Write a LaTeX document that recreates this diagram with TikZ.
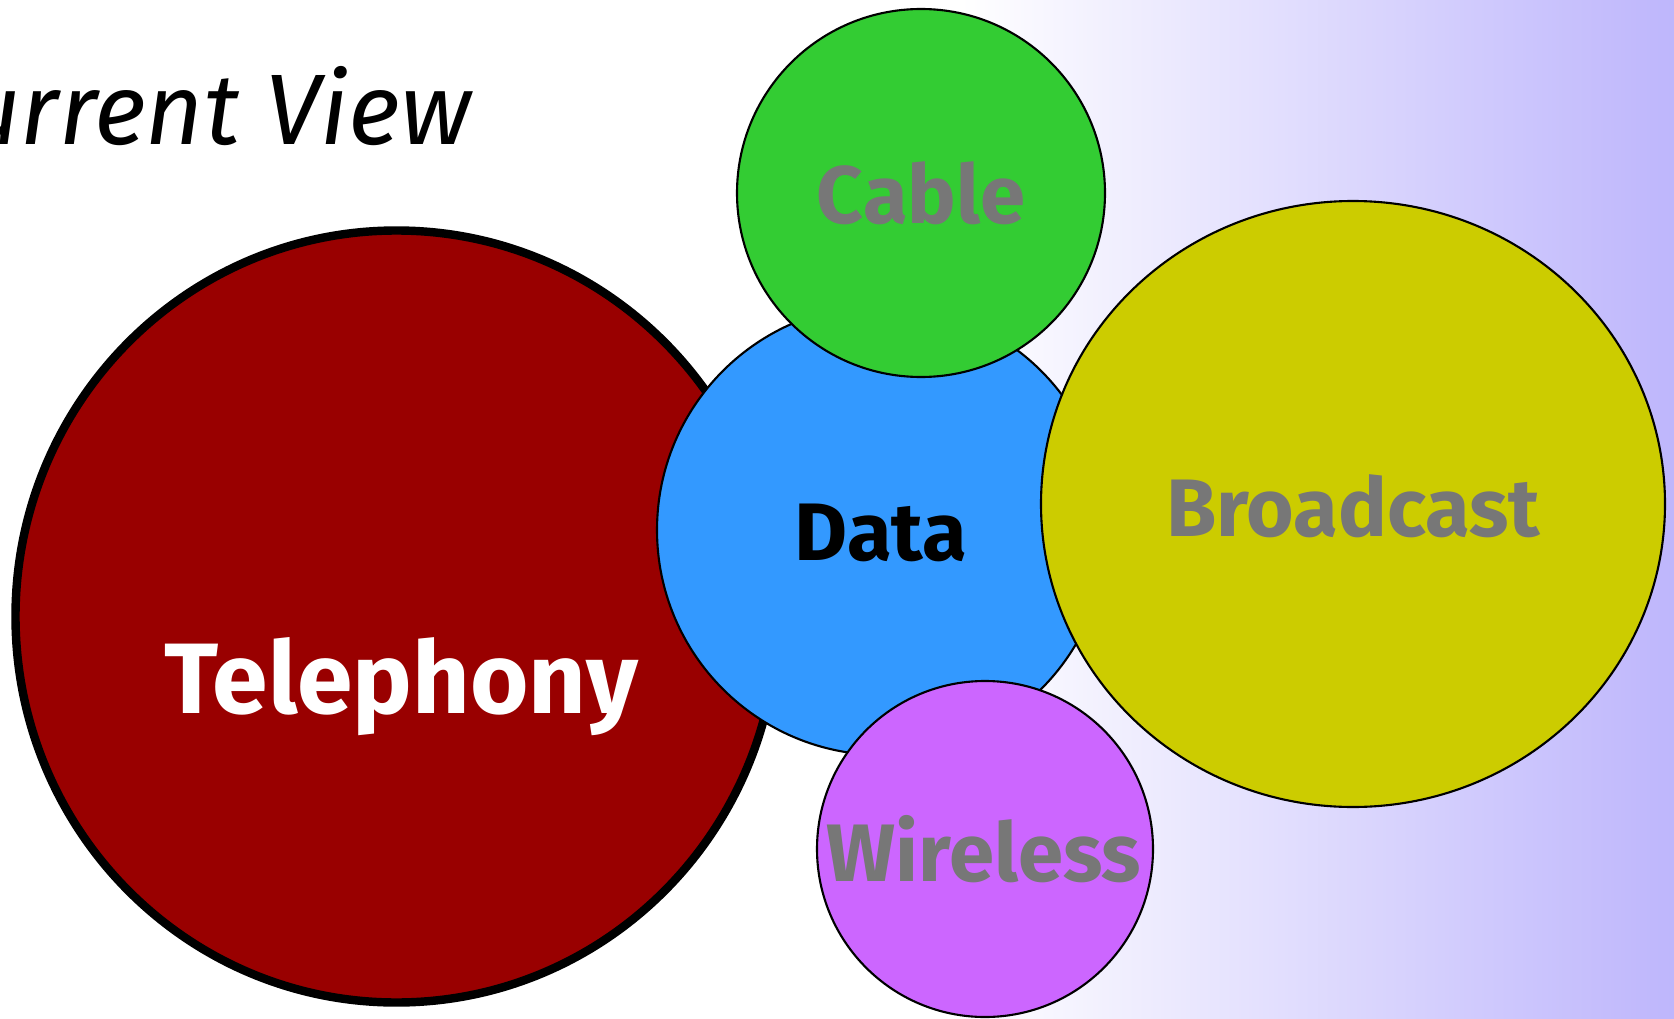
\documentclass[tikz,border=0pt]{standalone}
\usepackage{fontspec}
\setmainfont{Fira Sans}
\usepackage{tikz}
\usetikzlibrary{calc}
\definecolor{rotdunkel}{RGB}{153,0,0}
\definecolor{blaudata}{RGB}{51,153,255}
\definecolor{gruencable}{RGB}{51,204,51}
\definecolor{gelbbroad}{RGB}{204,204,0}
\definecolor{lilawire}{RGB}{204,102,255}
\definecolor{grauschrift}{RGB}{119,119,119}
\definecolor{lavendel}{RGB}{190,182,252}

\begin{document}
\begin{tikzpicture}
%
% background:
\useasboundingbox (0.000,0.000) rectangle (16.740,10.180);
\fill[white] (0.000,0.000) rectangle (16.740,10.180);
\shade[left color=white,right color=lavendel] (9.600,0.000) rectangle (16.740,10.180);
%
% title:
\node[anchor=base east,inner sep=0pt,font=\fontsize{28.5}{30}\selectfont\itshape] (titel) at (4.720,8.740) {Current View};
%
% path: Telephony
\draw[draw=black,line width=2.4pt,fill=rotdunkel] (3.965,4.015) ellipse (3.810 and 3.860);
\node[anchor=base,inner sep=0pt,text=white,font=\fontsize{28.5}{30}\selectfont\bfseries] (telephony) at (4.010,3.050) {Telephony};
%
% path: Data
\draw[draw=black,line width=0.6pt,fill=blaudata] (8.820,4.880) circle (2.250);
\node[anchor=base,inner sep=0pt,text=black,font=\fontsize{23.2}{25}\selectfont\bfseries] (data) at (8.810,4.575) {Data};
%
% path: Cable
\draw[draw=black,line width=0.6pt,fill=gruencable] (9.210,8.250) circle (1.840);
\node[anchor=base,inner sep=0pt,text=grauschrift,font=\fontsize{23.2}{25}\selectfont\bfseries] (cable) at (9.210,7.940) {Cable};
%
% path: Broadcast
\draw[draw=black,line width=0.6pt,fill=gelbbroad] (13.530,5.140) ellipse (3.120 and 3.030);
\node[anchor=base,inner sep=0pt,text=grauschrift,font=\fontsize{23.2}{25}\selectfont\bfseries] (broadcast) at (13.530,4.820) {Broadcast};
%
% path: Wireless
\draw[draw=black,line width=0.6pt,fill=lilawire] (9.850,1.690) circle (1.680);
\node[anchor=base,inner sep=0pt,text=grauschrift,font=\fontsize{23.2}{25}\selectfont\bfseries] (wireless) at (9.840,1.370) {Wireless};

\end{tikzpicture}
\end{document}
